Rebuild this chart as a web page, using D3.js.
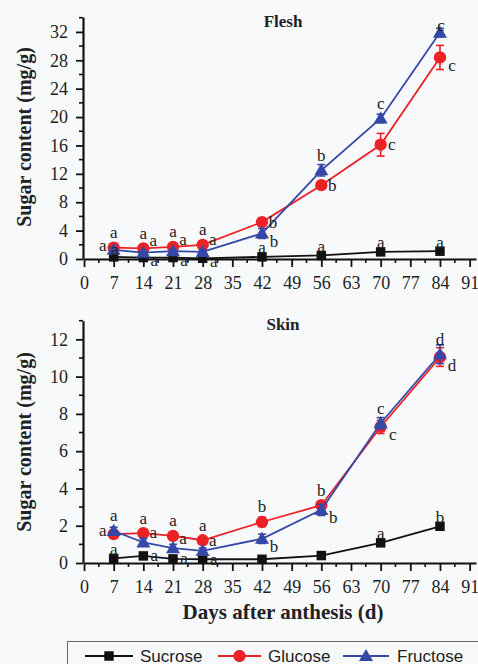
<!DOCTYPE html>
<html>
<head>
<meta charset="utf-8">
<script src="https://cdn.jsdelivr.net/npm/d3@7"></script>
<style>
  html, body { margin: 0; padding: 0; background: #f8f9fb; }
  svg { display: block; }
</style>
</head>
<body>
<svg id="chart" width="478" height="664"></svg>
<script>
// Sampling days (days after anthesis)
const days = [7, 14, 21, 28, 42, 56, 70, 84];
const xTickValues = [0, 7, 14, 21, 28, 35, 42, 49, 56, 63, 70, 77, 84, 91];
const seriesNames = ["Sucrose", "Glucose", "Fructose"];

// Flesh sugar content (mg/g)
const fleshSucrose = [0.3, 0.2, 0.2, 0.1, 0.3, 0.5, 1.0, 1.1];
const fleshGlucose = [1.6, 1.5, 1.7, 2.0, 5.2, 10.4, 16.1, 28.4];
const fleshFructose = [1.3, 0.9, 1.1, 1.0, 3.6, 12.5, 19.8, 31.9];
const fleshSucroseErr = [0.1, 0.1, 0.1, 0.1, 0.1, 0.1, 0.2, 0.2];
const fleshGlucoseErr = [0.3, 0.2, 0.2, 0.3, 0.4, 0.5, 1.6, 1.7];
const fleshFructoseErr = [0.3, 0.2, 0.2, 0.2, 0.7, 0.8, 0.6, 0.6];
const fleshSucroseSig = ["a", "a", "a", "a", "a", "a", "a", "a"];
const fleshGlucoseSig = ["a", "a", "a", "a", "b", "b", "c", "c"];
const fleshFructoseSig = ["a", "a", "a", "a", "b", "b", "c", "c"];
const fleshYTicks = [0, 4, 8, 12, 16, 20, 24, 28, 32];

// Skin sugar content (mg/g)
const skinSucrose = [0.25, 0.38, 0.22, 0.2, 0.2, 0.4, 1.08, 1.97];
const skinGlucose = [1.55, 1.6, 1.45, 1.22, 2.2, 3.1, 7.3, 11.05];
const skinFructose = [1.72, 1.1, 0.8, 0.65, 1.3, 2.85, 7.5, 11.2];
const skinSucroseErr = [0.05, 0.05, 0.05, 0.05, 0.05, 0.05, 0.1, 0.1];
const skinGlucoseErr = [0.15, 0.1, 0.1, 0.1, 0.25, 0.15, 0.35, 0.5];
const skinFructoseErr = [0.2, 0.2, 0.2, 0.15, 0.25, 0.3, 0.3, 0.5];
const skinSucroseSig = ["a", "a", "a", "a", "", "", "a", "b"];
const skinGlucoseSig = ["a", "a", "a", "a", "b", "b", "c", "d"];
const skinFructoseSig = ["a", "a", "a", "a", "b", "b", "c", "d"];
const skinYTicks = [0, 2, 4, 6, 8, 10, 12];

// Where each significance letter sits relative to its marker
const labelOffsets = {
  n: [0, -15], ns: [0, -9], c: [1, -7], e: [11, 0], es: [11, 3],
  ne: [10, -10], nee: [10, -12], se: [12, 8], w: [-11, -4]
};
const fleshSucroseTag = ["c", "es", "es", "es", "ns", "ns", "ns", "ns"];
const fleshGlucoseTag = ["n", "n", "n", "n", "e", "e", "e", "se"];
const fleshFructoseTag = ["w", "nee", "nee", "nee", "se", "n", "n", "c"];
const skinSucroseTag = ["ns", "e", "e", "e", "", "", "ns", "ns"];
const skinGlucoseTag = ["w", "n", "n", "n", "n", "n", "se", "se"];
const skinFructoseTag = ["n", "ne", "ne", "ne", "se", "se", "n", "n"];

const colors = { Sucrose: "#111111", Glucose: "#ec2227", Fructose: "#3548a8" };
const serif = "'Liberation Serif', 'Times New Roman', serif";

const svg = d3.select("#chart");

const x = d3.scaleLinear().domain([0, 92.5]).range([84, 476]);

function markerPath(name) {
  if (name === "Sucrose") return d3.symbol(d3.symbolSquare, 90)();
  if (name === "Glucose") return d3.symbol(d3.symbolCircle, 120)();
  return d3.symbol(d3.symbolTriangle, 85)();
}

function drawPanel(cfg) {
  const g = svg.append("g");
  const y = d3.scaleLinear().domain(cfg.yDomain).range(cfg.yRange);
  const y0 = y(0);

  // minor ticks
  const minorX = d3.range(3.5, 92, 7);
  g.append("g").selectAll("line").data(minorX).join("line")
    .attr("x1", d => x(d)).attr("x2", d => x(d))
    .attr("y1", y0).attr("y2", y0 + 4)
    .attr("stroke", "#111").attr("stroke-width", 1.6);
  g.append("g").selectAll("line").data(cfg.yMinor).join("line")
    .attr("x1", x(0) - 1).attr("x2", x(0) - 5)
    .attr("y1", d => y(d)).attr("y2", d => y(d))
    .attr("stroke", "#111").attr("stroke-width", 1.6);

  // axes
  const xAxis = g.append("g").attr("transform", `translate(0,${y0})`)
    .call(d3.axisBottom(x).tickValues(xTickValues).tickFormat(d3.format("d"))
      .tickSize(8).tickPadding(9).tickSizeOuter(0));
  const yAxis = g.append("g").attr("transform", `translate(${x(0) - 1},0)`)
    .call(d3.axisLeft(y).tickValues(cfg.yTicks).tickFormat(d3.format("d"))
      .tickSize(7).tickPadding(8).tickSizeOuter(0));
  [xAxis, yAxis].forEach(a => {
    a.select(".domain").attr("stroke", "#111").attr("stroke-width", 2.2);
    a.selectAll(".tick line").attr("stroke", "#111").attr("stroke-width", 1.8);
    a.selectAll(".tick text").attr("font-family", serif).attr("font-size", 18)
      .attr("fill", "#222");
  });

  // y-axis title
  g.append("text")
    .attr("transform", `translate(24,${cfg.yLabelCenter}) rotate(-90)`)
    .attr("text-anchor", "middle").attr("dominant-baseline", "central")
    .attr("font-family", serif).attr("font-weight", "bold").attr("font-size", 20)
    .attr("fill", "#222").text("Sugar content (mg/g)");

  // panel title
  g.append("text").attr("x", 283).attr("y", cfg.titleY)
    .attr("text-anchor", "middle").attr("dominant-baseline", "central")
    .attr("font-family", serif).attr("font-weight", "bold").attr("font-size", 17)
    .attr("fill", "#222").text(cfg.title);

  const line = d3.line().x(d => x(d.day)).y(d => y(d.v));

  cfg.series.forEach(s => {
    const pts = days.map((day, i) => ({ day, v: s.values[i], e: s.err[i] }));
    const col = colors[s.name];
    g.append("path").datum(pts).attr("d", line)
      .attr("fill", "none").attr("stroke", col).attr("stroke-width", 1.8);

    // error bars
    const eb = g.append("g").attr("stroke", col).attr("stroke-width", 1.6);
    pts.forEach(p => {
      const cx = x(p.day);
      eb.append("line").attr("x1", cx).attr("x2", cx).attr("y1", y(p.v - p.e)).attr("y2", y(p.v + p.e));
      eb.append("line").attr("x1", cx - 4).attr("x2", cx + 4).attr("y1", y(p.v - p.e)).attr("y2", y(p.v - p.e));
      eb.append("line").attr("x1", cx - 4).attr("x2", cx + 4).attr("y1", y(p.v + p.e)).attr("y2", y(p.v + p.e));
    });

    g.append("g").selectAll("path").data(pts).join("path")
      .attr("d", markerPath(s.name))
      .attr("transform", d => `translate(${x(d.day)},${y(d.v) + (s.name === "Fructose" ? 1 : 0)})`)
      .attr("fill", col);
  });

  // significance letters drawn on top
  cfg.series.forEach(s => {
    days.forEach((day, i) => {
      const sig = s.sig[i], tag = s.tag[i];
      if (!sig || !tag) return;
      const off = labelOffsets[tag];
      g.append("text")
        .attr("x", x(day) + off[0]).attr("y", y(s.values[i]) + off[1])
        .attr("text-anchor", "middle").attr("dominant-baseline", "central")
        .attr("font-family", serif).attr("font-size", 17).attr("fill", "#222")
        .text(sig);
    });
  });
}

drawPanel({
  title: "Flesh", titleY: 21, yLabelCenter: 137,
  yDomain: [0, 34.1], yRange: [259, 17], yTicks: fleshYTicks,
  yMinor: [2, 6, 10, 14, 18, 22, 26, 30, 34],
  series: [
    { name: "Sucrose", values: fleshSucrose, err: fleshSucroseErr, sig: fleshSucroseSig, tag: fleshSucroseTag },
    { name: "Glucose", values: fleshGlucose, err: fleshGlucoseErr, sig: fleshGlucoseSig, tag: fleshGlucoseTag },
    { name: "Fructose", values: fleshFructose, err: fleshFructoseErr, sig: fleshFructoseSig, tag: fleshFructoseTag }
  ]
});

drawPanel({
  title: "Skin", titleY: 324, yLabelCenter: 442,
  yDomain: [0, 13], yRange: [563, 320.7], yTicks: skinYTicks,
  yMinor: [1, 3, 5, 7, 9, 11, 13],
  series: [
    { name: "Sucrose", values: skinSucrose, err: skinSucroseErr, sig: skinSucroseSig, tag: skinSucroseTag },
    { name: "Glucose", values: skinGlucose, err: skinGlucoseErr, sig: skinGlucoseSig, tag: skinGlucoseTag },
    { name: "Fructose", values: skinFructose, err: skinFructoseErr, sig: skinFructoseSig, tag: skinFructoseTag }
  ]
});

// x-axis title
svg.append("text").attr("x", 283).attr("y", 612)
  .attr("text-anchor", "middle").attr("dominant-baseline", "central")
  .attr("font-family", serif).attr("font-weight", "bold").attr("font-size", 21)
  .attr("fill", "#222").text("Days after anthesis (d)");

// legend
const legend = svg.append("g");
legend.append("rect").attr("x", 67.5).attr("y", 641.5).attr("width", 420).attr("height", 40)
  .attr("fill", "none").attr("stroke", "#666").attr("stroke-width", 1);
const legendItems = [
  { name: "Sucrose", x1: 85, x2: 133, tx: 140 },
  { name: "Glucose", x1: 218, x2: 261, tx: 268 },
  { name: "Fructose", x1: 343, x2: 389, tx: 397 }
];
legendItems.forEach(it => {
  const col = colors[it.name];
  legend.append("line").attr("x1", it.x1).attr("x2", it.x2).attr("y1", 656).attr("y2", 656)
    .attr("stroke", col).attr("stroke-width", 2);
  legend.append("path").attr("d", markerPath(it.name))
    .attr("transform", `translate(${(it.x1 + it.x2) / 2},${656 + (it.name === "Fructose" ? 1 : 0)})`)
    .attr("fill", col);
  legend.append("text").attr("x", it.tx).attr("y", 656).attr("dominant-baseline", "central")
    .attr("font-family", "'Liberation Sans', Arial, sans-serif").attr("font-size", 17)
    .attr("fill", "#222").text(it.name);
});
</script>
</body>
</html>
